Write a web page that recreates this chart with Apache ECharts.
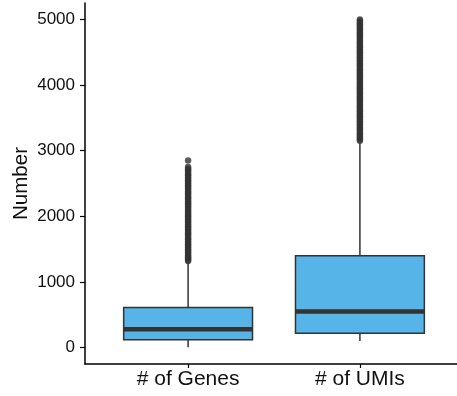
<!DOCTYPE html>
<html>
<head>
<meta charset="utf-8">
<script src="https://cdn.jsdelivr.net/npm/echarts@6/dist/echarts.min.js"></script>
<style>
html,body{margin:0;padding:0;background:#fff;}
#chart{width:457px;height:396px;}
</style>
</head>
<body>
<div id="chart"></div>
<script>
const categories = ['# of Genes', '# of UMIs'];
// [min, Q1, median, Q3, max] (whisker ends)
const genesBox = [5, 120, 280, 610, 1300];
const umisBox = [100, 220, 550, 1400, 3130];
const genesOutliers = [1320,1340,1360,1380,1400,1425,1450,1475,1500,1525,1550,1575,1600,1625,1650,1675,1700,1725,1750,1775,1800,1825,1850,1875,1900,1925,1950,1975,2000,2025,2050,2075,2100,2125,2150,2175,2200,2225,2250,2275,2300,2325,2350,2375,2400,2425,2450,2475,2500,2525,2550,2575,2600,2625,2650,2675,2700,2725,2750,2850];
const umisOutliers = [3150,3175,3200,3225,3250,3275,3300,3325,3350,3375,3400,3425,3450,3475,3500,3525,3550,3575,3600,3625,3650,3675,3700,3725,3750,3775,3800,3825,3850,3875,3900,3925,3950,3975,4000,4025,4050,4075,4100,4125,4150,4175,4200,4225,4250,4275,4300,4325,4350,4375,4400,4425,4450,4475,4500,4525,4550,4575,4600,4625,4650,4675,4700,4725,4750,4775,4800,4825,4850,4875,4900,4925,4950,4975,5000];
const yTicks = [0, 1000, 2000, 3000, 4000, 5000];
const xTicks = [1, 2];

const boxes = [genesBox, umisBox];
const boxData = boxes.map((b, i) => [xTicks[i]].concat(b));
const outlierData = [];
genesOutliers.forEach(v => outlierData.push([xTicks[0], v]));
umisOutliers.forEach(v => outlierData.push([xTicks[1], v]));

const FONT = 'Liberation Sans, Arial, Helvetica, sans-serif';
const chart = echarts.init(document.getElementById('chart'));
chart.setOption({
  animation: false,
  backgroundColor: '#ffffff',
  grid: { left: 85, top: 3, width: 378, height: 361, containLabel: false, outerBoundsMode: 'none' },
  xAxis: {
    type: 'value', min: 0.4, max: 2.6,
    axisLine: { show: true, onZero: false, lineStyle: { color: '#000', width: 1.5 } },
    axisTick: { show: true, length: 4, customValues: xTicks, lineStyle: { color: '#000', width: 1.2 } },
    axisLabel: { customValues: xTicks, margin: 5, color: '#111', fontFamily: FONT, fontSize: 21,
      formatter: v => categories[Math.round(v) - 1] },
    splitLine: { show: false }
  },
  yAxis: {
    type: 'value', min: -250, max: 5250,
    name: 'Number', nameLocation: 'middle', nameGap: 53, nameMoveOverlap: false,
    nameTextStyle: { color: '#111', fontFamily: FONT, fontSize: 20.5 },
    axisLine: { show: true, onZero: false, lineStyle: { color: '#000', width: 1.5 } },
    axisTick: { show: true, length: 5, customValues: yTicks, lineStyle: { color: '#000', width: 1.2 } },
    axisLabel: { customValues: yTicks, margin: 10, color: '#111', fontFamily: FONT, fontSize: 17,
      formatter: v => String(v) },
    splitLine: { show: false }
  },
  series: [
    {
      type: 'custom',
      data: boxData,
      encode: { x: 0, y: [1, 2, 3, 4, 5] },
      z: 2,
      renderItem: function (params, api) {
        const x = api.value(0);
        const pMin = api.coord([x, api.value(1)]);
        const pQ1 = api.coord([x, api.value(2)]);
        const pMed = api.coord([x, api.value(3)]);
        const pQ3 = api.coord([x, api.value(4)]);
        const pMax = api.coord([x, api.value(5)]);
        const w = api.size([0.75, 0])[0];
        const cx = pMed[0];
        const lineStyle = { stroke: '#333333', lineWidth: 1.5 };
        return {
          type: 'group',
          children: [
            { type: 'line', shape: { x1: cx, y1: pMin[1], x2: cx, y2: pQ1[1] }, style: lineStyle },
            { type: 'line', shape: { x1: cx, y1: pQ3[1], x2: cx, y2: pMax[1] }, style: lineStyle },
            { type: 'rect', shape: { x: cx - w / 2, y: pQ3[1], width: w, height: pQ1[1] - pQ3[1] },
              style: { fill: '#56B4E9', stroke: '#333333', lineWidth: 1.5 } },
            { type: 'line', shape: { x1: cx - w / 2, y1: pMed[1], x2: cx + w / 2, y2: pMed[1] },
              style: { stroke: '#333333', lineWidth: 4.5 } }
          ]
        };
      }
    },
    {
      type: 'scatter',
      data: outlierData,
      symbol: 'circle',
      symbolSize: 6.5,
      itemStyle: { color: '#333333' },
      z: 3
    }
  ]
});
</script>
</body>
</html>
